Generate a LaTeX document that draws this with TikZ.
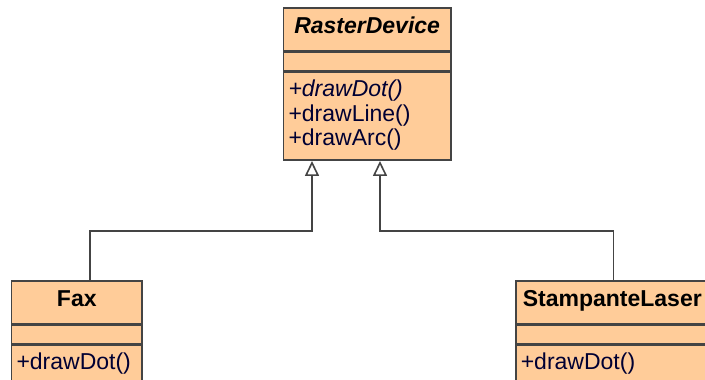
\documentclass[tikz,border=0pt]{standalone}
\usepackage{fontspec}
\setmainfont{Liberation Sans}
\usetikzlibrary{arrows.meta,positioning}
\definecolor{classfill}{HTML}{FFCC99}
\definecolor{classline}{HTML}{444444}
\definecolor{opstext}{HTML}{000033}
\newcommand{\lastdepth}[1]{\rule[-#1]{0pt}{#1}}

\begin{document}
\begin{tikzpicture}[x=1pt,y=-1pt]

\tikzset{head/.style = {draw=classline, line width=1.6pt, fill=classfill, anchor=north west, inner sep=0pt, minimum height=43pt, text height=16.5pt, text depth=8.5pt, font=\fontsize{23}{24.5}\selectfont\bfseries}}
\tikzset{attrs/.style = {draw=classline, line width=1.6pt, fill=classfill, inner sep=0pt, minimum height=18pt}}
\tikzset{ops/.style = {draw=classline, line width=1.6pt, fill=classfill, inner xsep=5pt, inner ysep=8pt, align=left, text=opstext, font=\fontsize{23}{24.5}\selectfont}}
\tikzset{inherit/.style = {-{Triangle[open, length=15pt, width=14pt]}, draw=classline, line width=1.6pt}}
%\draw[help lines] (0,0) grid (705,380);
\path[use as bounding box, clip] (0,0) rectangle (705,380);

\node[head, minimum width=167.3pt] (rd) at (282.7,7) {\itshape RasterDevice};
\node[attrs, minimum width=167.3pt, below=0pt of rd] (rdattr) {};
\node[ops, text width=157.3pt, below=0pt of rdattr] (rdops) {{\itshape +drawDot()}\\+drawLine()\\+drawArc()\lastdepth{6.5pt}};

\node[head, minimum width=130.6pt] (fax) at (10.7,280) {Fax};
\node[attrs, minimum width=130.6pt, below=0pt of fax] (faxattr) {};
\node[ops, text width=120.6pt, below=0pt of faxattr] (faxops) {+drawDot()\lastdepth{40pt}};

\node[head, minimum width=193pt] (sl) at (515,280) {StampanteLaser};
\node[attrs, minimum width=193pt, below=0pt of sl] (slattr) {};
\node[ops, text width=183pt, below=0pt of slattr] (slops) {+drawDot()\lastdepth{40pt}};

\draw[inherit] ([xshift=13pt]fax.north) |- ([xshift=29.3pt, yshift=-70pt]rdops.south west) -- ([xshift=29.3pt]rdops.south west);
\draw[inherit] ([xshift=1pt]sl.north) |- ([xshift=97.3pt, yshift=-70pt]rdops.south west) -- ([xshift=97.3pt]rdops.south west);
\end{tikzpicture}
\end{document}
